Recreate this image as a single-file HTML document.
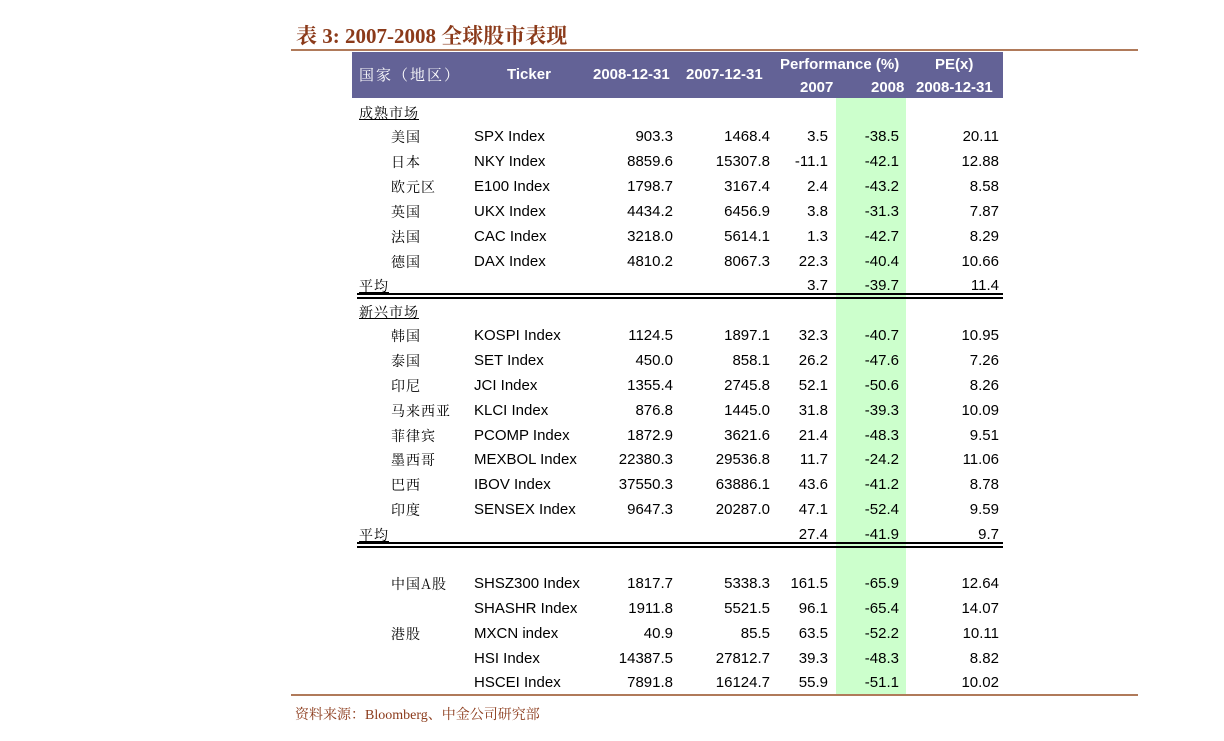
<!DOCTYPE html>
<html><head><meta charset="utf-8"><style>
body{margin:0;width:1224px;height:741px;background:#fff;position:relative;overflow:hidden;font-family:"Liberation Sans","Noto Sans CJK SC",sans-serif;}
div{position:absolute;white-space:nowrap;}
.t{font-size:15px;color:#000;line-height:18px;}
.r{text-align:right;}
.c{font-family:"Noto Serif CJK SC","Liberation Serif",serif;font-size:14px;letter-spacing:1px;}
.h{color:#fff;font-weight:bold;font-size:15px;line-height:18px;}
.u{text-decoration:underline;}
</style></head><body>
<div style="left:296px;top:23px;font-family:'Liberation Serif','Noto Serif CJK SC',serif;font-weight:bold;font-size:21px;color:#8b3a1a;line-height:26px;">表 3:  2007-2008 全球股市表现</div>
<div style="left:291px;top:49px;width:847px;height:2px;background:#b07a5a;"></div>
<div style="left:352px;top:52px;width:651px;height:46px;background:#636296;"></div>
<div class="h c" style="left:359px;top:66px;font-weight:normal;letter-spacing:2px;">国家（地区）</div>
<div class="h" style="left:507px;top:66px;">Ticker</div>
<div class="h" style="left:593px;top:66px;">2008-12-31</div>
<div class="h" style="left:686px;top:66px;">2007-12-31</div>
<div class="h" style="left:780px;top:56px;">Performance (%)</div>
<div class="h" style="left:935px;top:56px;">PE(x)</div>
<div class="h" style="left:800px;top:79px;">2007</div>
<div class="h" style="left:871px;top:79px;">2008</div>
<div class="h" style="left:916px;top:79px;">2008-12-31</div>
<div style="left:836px;top:98px;width:70px;height:596px;background:#ccffcc;"></div>
<div style="left:357px;top:293px;width:646px;height:2px;background:#000;"></div>
<div style="left:357px;top:297px;width:646px;height:2px;background:#000;"></div>
<div style="left:357px;top:542px;width:646px;height:2px;background:#000;"></div>
<div style="left:357px;top:546px;width:646px;height:2px;background:#000;"></div>
<div style="left:291px;top:694px;width:847px;height:2px;background:#b07a5a;"></div>
<div style="left:295px;top:704px;font-family:'Liberation Serif','Noto Serif CJK SC',serif;font-size:14px;color:#8b3a1a;">资料来源：Bloomberg、中金公司研究部</div>
<div id="rows"></div>
<script>
var d=[
[111,'sec','成熟市场'],
[135,'美国','SPX Index','903.3','1468.4','3.5','-38.5','20.11'],
[160,'日本','NKY Index','8859.6','15307.8','-11.1','-42.1','12.88'],
[185,'欧元区','E100 Index','1798.7','3167.4','2.4','-43.2','8.58'],
[210,'英国','UKX Index','4434.2','6456.9','3.8','-31.3','7.87'],
[235,'法国','CAC Index','3218.0','5614.1','1.3','-42.7','8.29'],
[260,'德国','DAX Index','4810.2','8067.3','22.3','-40.4','10.66'],
[284,'sec','平均','','','3.7','-39.7','11.4'],
[310,'sec','新兴市场'],
[334,'韩国','KOSPI Index','1124.5','1897.1','32.3','-40.7','10.95'],
[359,'泰国','SET Index','450.0','858.1','26.2','-47.6','7.26'],
[384,'印尼','JCI Index','1355.4','2745.8','52.1','-50.6','8.26'],
[409,'马来西亚','KLCI Index','876.8','1445.0','31.8','-39.3','10.09'],
[434,'菲律宾','PCOMP Index','1872.9','3621.6','21.4','-48.3','9.51'],
[458,'墨西哥','MEXBOL Index','22380.3','29536.8','11.7','-24.2','11.06'],
[483,'巴西','IBOV Index','37550.3','63886.1','43.6','-41.2','8.78'],
[508,'印度','SENSEX Index','9647.3','20287.0','47.1','-52.4','9.59'],
[533,'sec','平均','','','27.4','-41.9','9.7'],
[582,'中国A股','SHSZ300 Index','1817.7','5338.3','161.5','-65.9','12.64'],
[607,'','SHASHR Index','1911.8','5521.5','96.1','-65.4','14.07'],
[632,'港股','MXCN index','40.9','85.5','63.5','-52.2','10.11'],
[657,'','HSI Index','14387.5','27812.7','39.3','-48.3','8.82'],
[681,'','HSCEI Index','7891.8','16124.7','55.9','-51.1','10.02']];
var h='',R=[673,770,828,899,999];
d.forEach(function(r){var y=r[0]-7;
if(r[1]=='sec'){h+='<div class="t c u" style="left:359px;top:'+y+'px">'+r[2]+'</div>';}
else{h+='<div class="t c" style="left:391px;top:'+y+'px">'+r[1]+'</div><div class="t" style="left:474px;top:'+y+'px">'+r[2]+'</div>';}
for(var i=0;i<5;i++){var v=r[i+3];if(v)h+='<div class="t r" style="left:'+(R[i]-100)+'px;width:100px;top:'+y+'px">'+v+'</div>';}
});
document.getElementById('rows').outerHTML=h;
</script>
</body></html>
